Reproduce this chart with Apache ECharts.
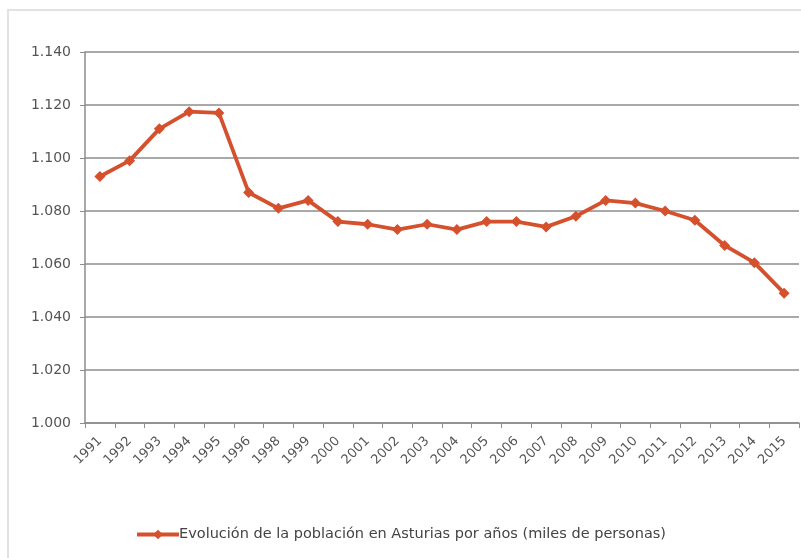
<!DOCTYPE html>
<html>
<head>
<meta charset="utf-8">
<script src="https://cdn.jsdelivr.net/npm/echarts@6/dist/echarts.min.js"></script>
<style>
    html, body { margin: 0; padding: 0; background: #fff; }
    #main { width: 801px; height: 558px; }
</style>
</head>
<body>
<div id="main"></div>
<script>
// años (falta 1997 en el original)
var years = ['1991', '1992', '1993', '1994', '1995', '1996', '1998', '1999', '2000', '2001', '2002', '2003',
    '2004', '2005', '2006', '2007', '2008', '2009', '2010', '2011', '2012', '2013', '2014', '2015'];
// población en miles de personas
var poblacion = [1093, 1099, 1111, 1117.5, 1117, 1087, 1081, 1084, 1076, 1075, 1073, 1075,
    1073, 1076, 1076, 1074, 1078, 1084, 1083, 1080, 1076.5, 1067, 1060.5, 1049];
var serieName = 'Evolución de la población en Asturias por años (miles de personas)';

function fmtMiles(v) {
    // 1140 -> "1.140"
    var s = Math.round(v).toString();
    return s.replace(/\B(?=(\d{3})+(?!\d))/g, '.');
}

var chart = echarts.init(document.getElementById('main'));
var option = {
    backgroundColor: '#fff',
    animation: false,
    textStyle: { fontFamily: 'DejaVu Sans, sans-serif' },
    graphic: [
        {
            type: 'rect',
            shape: { x: 8, y: 10, width: 820, height: 600 },
            style: { fill: 'none', stroke: '#e2e2e2', lineWidth: 2 },
            silent: true
        }
    ],
    grid: {
        left: 85,
        right: 2,
        top: 52,
        bottom: 135
    },
    legend: {
        top: 522,
        left: 'center',
        itemWidth: 42,
        itemHeight: 12,
        textStyle: { color: '#444', fontSize: 14.5, padding: [0, 0, 0, -5] },
        itemStyle: { color: '#d5502c' },
        lineStyle: { width: 4 },
        data: [serieName]
    },
    xAxis: {
        type: 'category',
        data: years,
        boundaryGap: true,
        axisLine: { lineStyle: { color: '#8c8c8c', width: 1.5 } },
        axisTick: { show: true, length: 5, lineStyle: { color: '#8c8c8c' } },
        axisLabel: { rotate: 45, color: '#555', fontSize: 13, margin: 16, interval: 0 }
    },
    yAxis: {
        type: 'value',
        min: 1000,
        max: 1140,
        interval: 20,
        axisLine: { show: true, lineStyle: { color: '#8c8c8c', width: 1.5 } },
        axisTick: { show: true, length: 5, lineStyle: { color: '#8c8c8c' } },
        splitLine: { lineStyle: { color: '#8c8c8c', width: 1.5 } },
        axisLabel: {
            color: '#555',
            fontSize: 14,
            margin: 14,
            formatter: function (v) { return fmtMiles(v); }
        }
    },
    series: [
        {
            name: serieName,
            type: 'line',
            data: poblacion,
            symbol: 'diamond',
            symbolSize: 11,
            lineStyle: { color: '#d5502c', width: 3.8 },
            itemStyle: { color: '#d5502c' }
        }
    ]
};
chart.setOption(option);
</script>
</body>
</html>
